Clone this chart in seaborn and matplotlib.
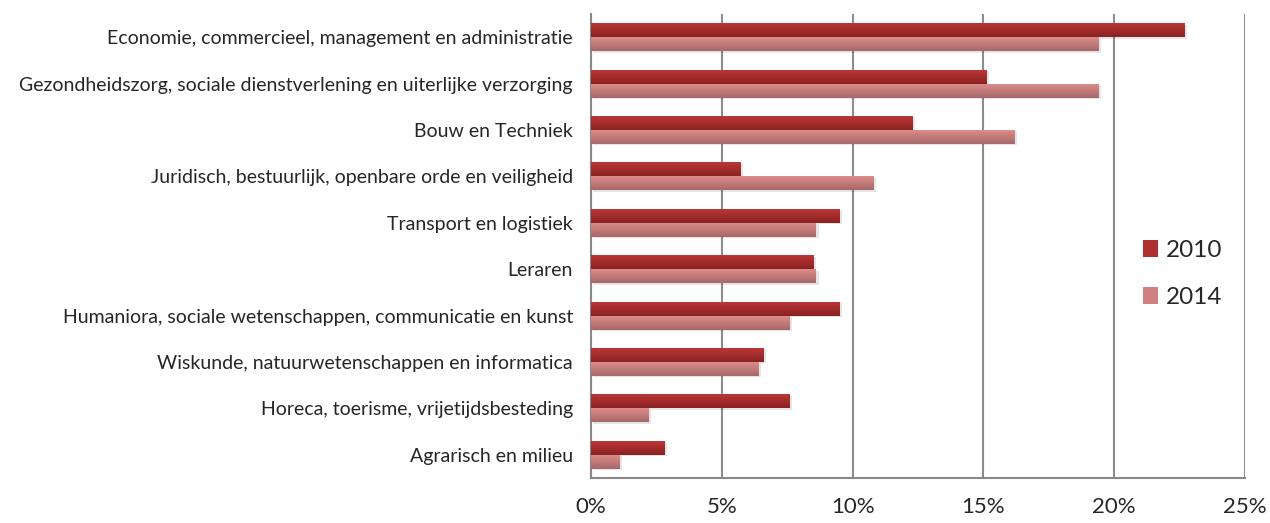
import numpy as np
import pandas as pd
import matplotlib
matplotlib.use("Agg")
import matplotlib.pyplot as plt
import seaborn as sns
from matplotlib.colors import LinearSegmentedColormap
from matplotlib.patches import Rectangle

# Data
sectoren = [
    "Economie, commercieel, management en administratie",
    "Gezondheidszorg, sociale dienstverlening en uiterlijke verzorging",
    "Bouw en Techniek",
    "Juridisch, bestuurlijk, openbare orde en veiligheid",
    "Transport en logistiek",
    "Leraren",
    "Humaniora, sociale wetenschappen, communicatie en kunst",
    "Wiskunde, natuurwetenschappen en informatica",
    "Horeca, toerisme, vrijetijdsbesteding",
    "Agrarisch en milieu",
]
waarden_2010 = [22.7, 15.1, 12.3, 5.7, 9.5, 8.5, 9.5, 6.6, 7.6, 2.8]
waarden_2014 = [19.4, 19.4, 16.2, 10.8, 8.6, 8.6, 7.6, 6.4, 2.2, 1.1]
jaren = ["2010", "2014"]

df = pd.DataFrame({
    "sector": sectoren * 2,
    "jaar": [jaren[0]] * len(sectoren) + [jaren[1]] * len(sectoren),
    "pct": waarden_2010 + waarden_2014,
})

sns.set_style("white")
plt.rcParams["font.family"] = ["Lato", "DejaVu Sans"]

fig = plt.figure(figsize=(12.7, 5.23), dpi=100)
ax = fig.add_axes([591 / 1270, 1 - 478 / 523, (1245 - 591) / 1270, (478 - 14) / 523])

kleuren = {"2010": "#b03030", "2014": "#d08080"}
sns.barplot(data=df, y="sector", x="pct", hue="jaar", order=sectoren,
            hue_order=jaren, palette=kleuren, width=0.6, ax=ax,
            edgecolor="none", zorder=3)

# verloop per balk (zoals in excel)
gradienten = {
    "2010": LinearSegmentedColormap.from_list("g10", ["#bc3636", "#8a2222"]),
    "2014": LinearSegmentedColormap.from_list("g14", ["#dc8c8a", "#a66868"]),
}
grad = np.linspace(0, 1, 64).reshape(-1, 1)
for cont, jaar in zip(ax.containers, jaren):
    for p in cont.patches:
        x0, y0 = p.get_x(), p.get_y()
        w, h = p.get_width(), p.get_height()
        # zachte schaduw
        ax.add_patch(Rectangle((x0 + 0.06, y0 + 0.03), w + 0.04, h, color="#000000",
                               alpha=0.10, lw=0, zorder=2))
        ax.imshow(grad, cmap=gradienten[jaar], aspect="auto",
                  extent=(x0, x0 + w, y0, y0 + h), origin="lower", zorder=4)
        p.set_visible(False)

ax.set_xlim(0, 25)
ax.set_ylim(len(sectoren) - 0.5, -0.5)
ax.set_xticks(range(0, 26, 5))
ax.set_xticklabels([f"{v}%" for v in range(0, 26, 5)], fontsize=16)
ax.set_yticks(range(len(sectoren)))
ax.set_yticklabels(sectoren, fontsize=14)
ax.set_yticks(np.arange(-0.5, len(sectoren), 1), minor=True)
ax.tick_params(axis="y", which="major", length=0, pad=13)
ax.tick_params(axis="y", which="minor", length=5, width=1.5, color="#888888", direction="out")
ax.tick_params(axis="x", length=6, width=1.5, color="#888888", direction="out", pad=8)
ax.set_xlabel("")
ax.set_ylabel("")

ax.grid(axis="x", color="#8c8c8c", linewidth=1.5, zorder=0)
ax.set_axisbelow(True)
for s in ["top", "right"]:
    ax.spines[s].set_visible(False)
for s in ["left", "bottom"]:
    ax.spines[s].set_color("#888888")
    ax.spines[s].set_linewidth(1.5)

leg = ax.legend(loc="center left", bbox_to_anchor=(0.81, 0.44), frameon=False,
                fontsize=17.5, handlelength=0.65, handleheight=0.7,
                handletextpad=0.3, labelspacing=1.05)
for h, jaar in zip(leg.legend_handles, jaren):
    h.set_visible(True)
    h.set_facecolor(kleuren[jaar])

fig.savefig("out.png", dpi=100)
